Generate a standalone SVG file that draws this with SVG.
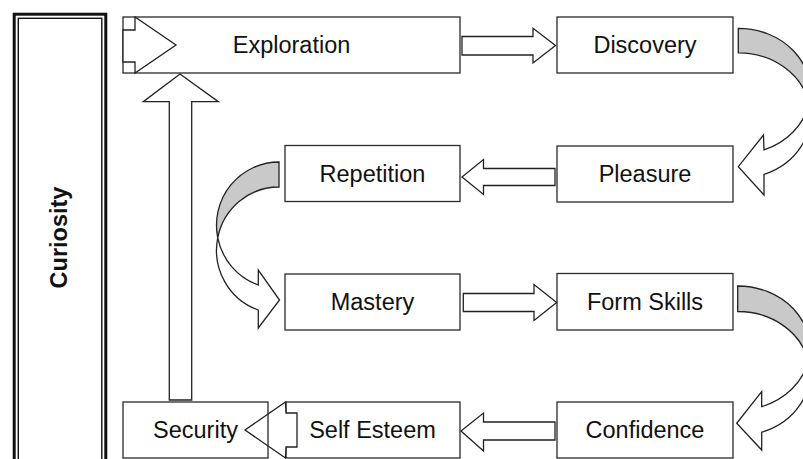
<svg xmlns="http://www.w3.org/2000/svg" width="803" height="459" viewBox="0 0 803 459">
<style>
.box{fill:#fff;stroke:#2a2a2a;stroke-width:1.3}
.lbl{font-family:"Liberation Sans",Arial,sans-serif;font-size:23.5px;fill:#111;text-anchor:middle}
.arr{fill:#fff;stroke:#222;stroke-width:1.3;stroke-linejoin:miter}
.back{fill:#c9c9c9;stroke:#222;stroke-width:1.3}
</style>
<rect width="803" height="459" fill="#fff"/>
<g id="curiosity">
<rect x="14.2" y="14.2" width="91.6" height="470" fill="#fff" stroke="#111" stroke-width="3"/>
<rect x="18.3" y="18.3" width="83.5" height="470" fill="none" stroke="#111" stroke-width="1.4"/>
<text transform="translate(67,237.5) rotate(-90)" class="lbl" style="font-weight:bold">Curiosity</text>
</g>
<g id="exploration">
<rect class="box" x="123" y="17" width="337" height="56"/>
<text class="lbl" x="291.5" y="53.3">Exploration</text>
</g>
<g id="discovery">
<rect class="box" x="557" y="17" width="176" height="56"/>
<text class="lbl" x="645" y="53.3">Discovery</text>
</g>
<g id="pleasure">
<rect class="box" x="557" y="146" width="176" height="56"/>
<text class="lbl" x="645" y="182">Pleasure</text>
</g>
<g id="repetition">
<rect class="box" x="285" y="145.5" width="175" height="56"/>
<text class="lbl" x="372.5" y="181.8">Repetition</text>
</g>
<g id="mastery">
<rect class="box" x="285" y="274" width="175" height="56"/>
<text class="lbl" x="372.5" y="310.3">Mastery</text>
</g>
<g id="form-skills">
<rect class="box" x="557" y="273.5" width="176" height="56.5"/>
<text class="lbl" x="645" y="310.3">Form Skills</text>
</g>
<g id="confidence">
<rect class="box" x="557" y="402" width="176" height="56"/>
<text class="lbl" x="645" y="438.3">Confidence</text>
</g>
<g id="self-esteem">
<rect class="box" x="286" y="402" width="174" height="56"/>
<text class="lbl" x="372.5" y="438.3">Self Esteem</text>
</g>
<g id="connectors">
<polygon class="arr" points="123,30 135,30 135,17 176,45 135,73 135,62 123,62"/>
<polygon class="arr" points="169.3,400 169.3,101.7 143.3,101.7 180,74 218.3,101.7 191.7,101.7 191.7,400"/>
<polygon class="arr" points="462,36.5 533,36.5 533,28.3 555.5,45.5 533,63 533,55 462,55"/>
<polygon class="arr" points="555,168.5 483.5,168.5 483.5,159.5 462,177 483.5,194.5 483.5,185.5 555,185.5"/>
<polygon class="arr" points="463.3,293.5 534,293.5 534,284.5 556.7,302.5 534,320.5 534,311.5 463.3,311.5"/>
<polygon class="arr" points="555,422 483.5,422 483.5,413 461,431 483.5,451 483.5,440 555,440"/>
<polygon class="arr" points="297,413 286,413 285.5,402 245,430 285.5,458 286,447 297,447"/>
<path class="back" d="M279,162 A62.5,63.3 0 0 0 217.73,237.8 A62.5,63.3 0 0 1 279,187 Z"/>
<path class="arr" d="M217.73,237.8 A62.5,63.3 0 0 0 258.3,285 L258.3,270 L279.5,300 L258.3,328 L258.3,310 A62.5,63.3 0 0 1 217.73,237.8 Z"/>
<path class="back" d="M738.3,28.3 A72,62.9 0 0 1 808.92,103.45 A72,62.9 0 0 0 738.3,52.8 Z"/>
<path class="arr" d="M808.92,103.45 A72,62.9 0 0 1 764,149.96 L763.5,135 L738.3,166.7 L764,195 L764,174.46 A72,62.9 0 0 0 808.92,103.45 Z"/>
<path class="back" d="M737.7,286 A72,62.13 0 0 1 808.17,360.88 A72,62.13 0 0 0 737.7,311.5 Z"/>
<path class="arr" d="M808.17,360.88 A72,62.13 0 0 1 761.7,406.7 L761.7,391.7 L736.7,423.3 L761.7,450 L761.7,432.2 A72,62.13 0 0 0 808.17,360.88 Z"/>
</g>
<g id="security">
<rect x="123" y="402" width="145" height="56" fill="none" stroke="#2a2a2a" stroke-width="1.3"/>
<text class="lbl" x="195.5" y="438.3">Security</text>
</g>
</svg>
